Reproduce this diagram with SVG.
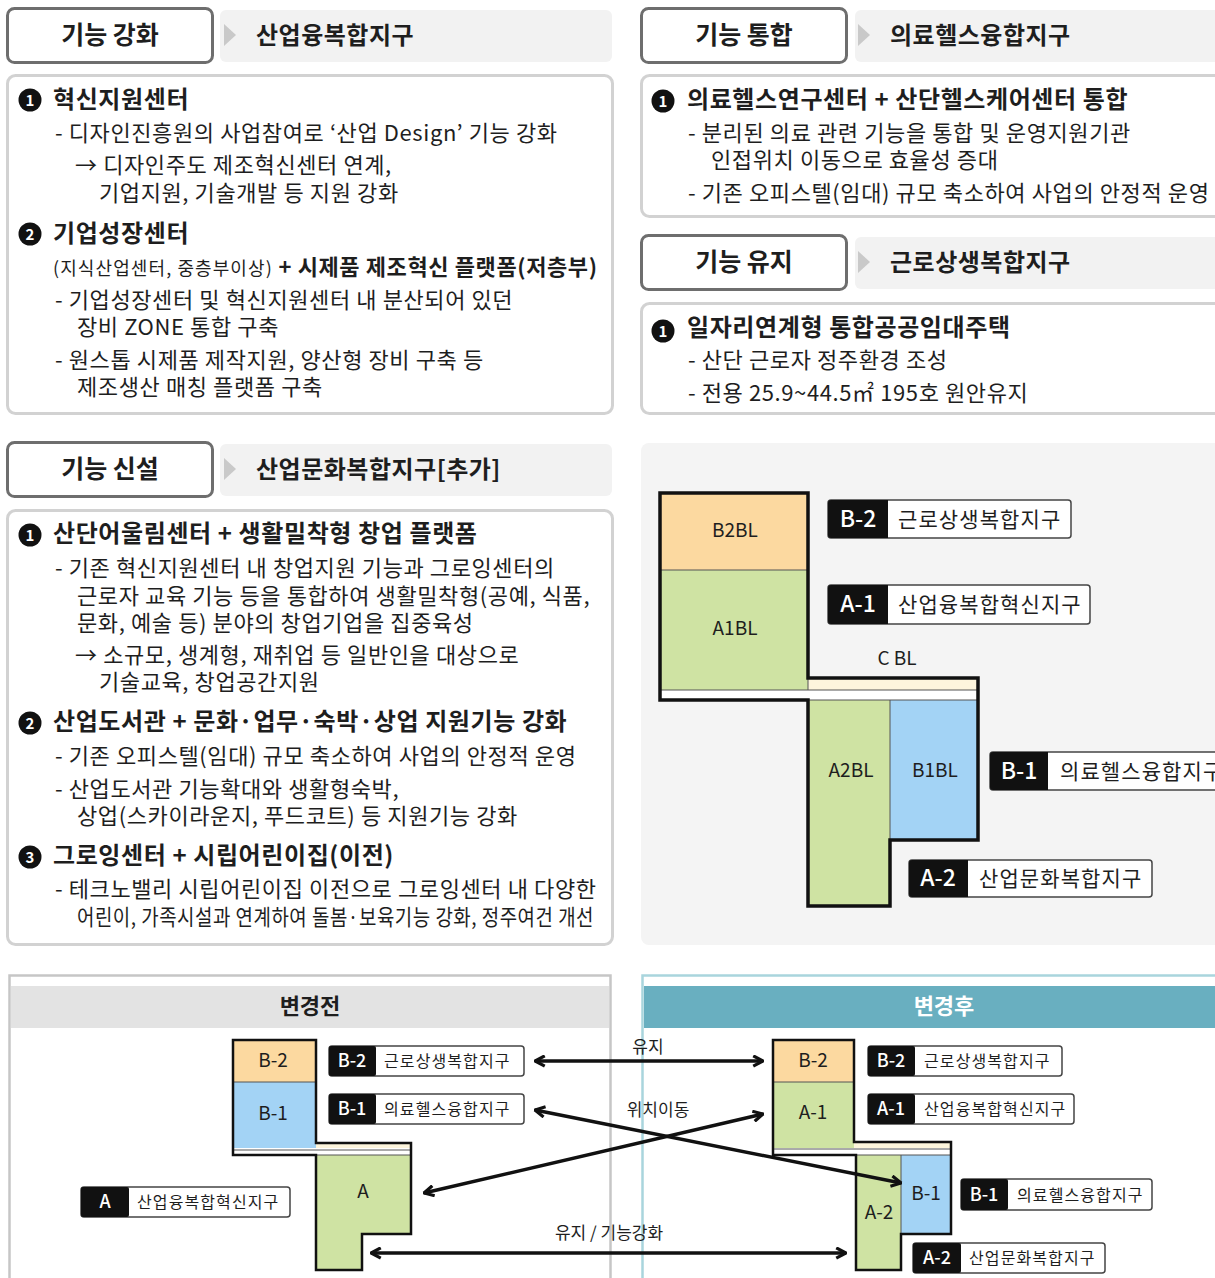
<svg xmlns="http://www.w3.org/2000/svg" width="1215" height="1278" viewBox="0 0 1215 1278">
<defs>
<style>
text{font-family:"Noto Sans CJK KR","Noto Sans",sans-serif;fill:#1e1e1e}
.tag{fill:#fff;stroke:#6e6e6e;stroke-width:3}
.tagt{font-size:25px;font-weight:700;text-anchor:middle}
.band{fill:#f2f2f2}
.tri{fill:#c9c9c9}
.bandt{font-size:24px;font-weight:700;letter-spacing:0.5px}
.box{fill:#fff;stroke:#d2d2d2;stroke-width:3}
.h{font-size:24px;font-weight:700;letter-spacing:0.6px}
.b{font-size:22px;letter-spacing:0.6px}
.s{font-size:18px;letter-spacing:1.1px}
.bul{fill:#111}
.bn{font-size:15px;font-weight:700;fill:#fff;text-anchor:middle}
.or{fill:#fcd9a0}
.gr{fill:#cfe3a3}
.bl{fill:#a3d3f5}
.cr{fill:#fdf5dc}
.wh{fill:#fff}
.ol{fill:none;stroke:#111;stroke-width:3.5;stroke-linejoin:miter}
.ol2{fill:none;stroke:#111;stroke-width:2.5;stroke-linejoin:miter}
.thin{stroke:#555;stroke-width:1}
.pl{font-size:19px;text-anchor:middle}
.lbo{fill:#fff;stroke:#444;stroke-width:1.5}
.lbk{fill:#111}
.lk{font-size:23px;font-weight:500;fill:#fff;text-anchor:middle}
.lw{font-size:21px;letter-spacing:1.1px}
.lk2{font-size:18px;font-weight:500;fill:#fff;text-anchor:middle}
.lw2{font-size:16px;letter-spacing:1.1px}
.at{font-size:17px;text-anchor:middle}
.arr{fill:none;stroke:#111;stroke-width:3.5}
</style>
<marker id="chev" viewBox="0 0 10 10" refX="9" refY="5" markerWidth="13" markerHeight="13" markerUnits="userSpaceOnUse" orient="auto-start-reverse">
<path d="M1.5,1 L9,5 L1.5,9" fill="none" stroke="#111" stroke-width="2.4"/>
</marker>
</defs>
<rect width="1215" height="1278" fill="#fff"/>

<!-- Section 1: 기능 강화 -->
<g id="sec-gangwha">
<rect class="band" x="220" y="10" width="392" height="52" rx="6"/>
<polygon class="tri" points="224,24 236,35 224,46"/>
<text class="bandt" x="256" y="44">산업융복합지구</text>
<rect class="tag" x="7.5" y="8.5" width="205" height="54" rx="7"/>
<text class="tagt" x="110" y="44">기능 강화</text>
</g>
<g id="box-gangwha">
<rect class="box" x="7.5" y="75.5" width="605" height="338" rx="8"/>
<circle class="bul" cx="30" cy="100" r="11.5"/><text class="bn" x="30" y="105.5">1</text>
<text class="h" x="53" y="108">혁신지원센터</text>
<text class="b" x="55" y="141">- 디자인진흥원의 사업참여로 ‘산업 Design’ 기능 강화</text>
<text class="b" x="75" y="173">→ 디자인주도 제조혁신센터 연계,</text>
<text class="b" x="99" y="201">기업지원, 기술개발 등 지원 강화</text>
<circle class="bul" cx="30" cy="234" r="11.5"/><text class="bn" x="30" y="239.5">2</text>
<text class="h" x="53" y="242">기업성장센터</text>
<text x="53" y="275"><tspan class="s">(지식산업센터, 중층부이상)</tspan><tspan class="b" font-weight="700"> + 시제품 제조혁신 플랫폼(저층부)</tspan></text>
<text class="b" x="55" y="308">- 기업성장센터 및 혁신지원센터 내 분산되어 있던</text>
<text class="b" x="77" y="335">장비 ZONE 통합 구축</text>
<text class="b" x="55" y="368">- 원스톱 시제품 제작지원, 양산형 장비 구축 등</text>
<text class="b" x="77" y="395">제조생산 매칭 플랫폼 구축</text>
</g>

<!-- Section 2: 기능 통합 -->
<g id="sec-tonghap">
<rect class="band" x="855" y="10" width="370" height="52" rx="6"/>
<polygon class="tri" points="858,24 870,35 858,46"/>
<text class="bandt" x="890" y="44">의료헬스융합지구</text>
<rect class="tag" x="641.5" y="8.5" width="205" height="54" rx="7"/>
<text class="tagt" x="744" y="44">기능 통합</text>
</g>
<g id="box-tonghap">
<rect class="box" x="641.5" y="75.5" width="590" height="141" rx="8"/>
<circle class="bul" cx="663" cy="101" r="11.5"/><text class="bn" x="663" y="106.5">1</text>
<text class="h" x="687" y="108">의료헬스연구센터 + 산단헬스케어센터 통합</text>
<text class="b" x="688" y="141">- 분리된 의료 관련 기능을 통합 및 운영지원기관</text>
<text class="b" x="711" y="168">인접위치 이동으로 효율성 증대</text>
<text class="b" x="688" y="201">- 기존 오피스텔(임대) 규모 축소하여 사업의 안정적 운영</text>
</g>

<!-- Section 3: 기능 유지 -->
<g id="sec-yuji">
<rect class="band" x="855" y="237" width="370" height="52" rx="6"/>
<polygon class="tri" points="858,251 870,262 858,273"/>
<text class="bandt" x="890" y="271">근로상생복합지구</text>
<rect class="tag" x="641.5" y="235.5" width="205" height="54" rx="7"/>
<text class="tagt" x="744" y="271">기능 유지</text>
</g>
<g id="box-yuji">
<rect class="box" x="641.5" y="303.5" width="590" height="110" rx="8"/>
<circle class="bul" cx="663" cy="331" r="11.5"/><text class="bn" x="663" y="336.5">1</text>
<text class="h" x="687" y="336">일자리연계형 통합공공임대주택</text>
<text class="b" x="688" y="368">- 산단 근로자 정주환경 조성</text>
<text class="b" x="688" y="401">- 전용 25.9~44.5㎡ 195호 원안유지</text>
</g>

<!-- Section 4: 기능 신설 -->
<g id="sec-sinseol">
<rect class="band" x="220" y="444" width="392" height="52" rx="6"/>
<polygon class="tri" points="224,458 236,469 224,480"/>
<text class="bandt" x="256" y="478">산업문화복합지구[추가]</text>
<rect class="tag" x="7.5" y="442.5" width="205" height="54" rx="7"/>
<text class="tagt" x="110" y="478">기능 신설</text>
</g>
<g id="box-sinseol">
<rect class="box" x="7.5" y="510.5" width="605" height="434" rx="8"/>
<circle class="bul" cx="30" cy="535" r="11.5"/><text class="bn" x="30" y="540.5">1</text>
<text class="h" x="53" y="542">산단어울림센터 + 생활밀착형 창업 플랫폼</text>
<text class="b" x="55" y="576">- 기존 혁신지원센터 내 창업지원 기능과 그로잉센터의</text>
<text class="b" x="77" y="604">근로자 교육 기능 등을 통합하여 생활밀착형(공예, 식품,</text>
<text class="b" x="77" y="631">문화, 예술 등) 분야의 창업기업을 집중육성</text>
<text class="b" x="75" y="663">→ 소규모, 생계형, 재취업 등 일반인을 대상으로</text>
<text class="b" x="99" y="690">기술교육, 창업공간지원</text>
<circle class="bul" cx="30" cy="723" r="11.5"/><text class="bn" x="30" y="728.5">2</text>
<text class="h" x="53" y="730">산업도서관 + 문화·업무·숙박·상업 지원기능 강화</text>
<text class="b" x="55" y="764">- 기존 오피스텔(임대) 규모 축소하여 사업의 안정적 운영</text>
<text class="b" x="55" y="797">- 산업도서관 기능확대와 생활형숙박,</text>
<text class="b" x="77" y="824">상업(스카이라운지, 푸드코트) 등 지원기능 강화</text>
<circle class="bul" cx="30" cy="857" r="11.5"/><text class="bn" x="30" y="862.5">3</text>
<text class="h" x="53" y="864">그로잉센터 + 시립어린이집(이전)</text>
<text class="b" x="55" y="897">- 테크노밸리 시립어린이집 이전으로 그로잉센터 내 다양한</text>
<text class="b" x="77" y="925" font-size="20" textLength="517" lengthAdjust="spacingAndGlyphs">어린이, 가족시설과 연계하여 돌봄·보육기능 강화, 정주여건 개선</text>
</g>

<!-- Plan (middle right) -->
<g id="plan">
<rect x="641" y="443" width="584" height="502" rx="8" fill="#f4f4f4"/>
<rect class="or" x="660" y="493" width="148" height="77"/>
<rect class="gr" x="660" y="570" width="148" height="120"/>
<rect class="cr" x="808" y="678" width="170" height="12"/>
<rect class="wh" x="660" y="690" width="318" height="10"/>
<rect class="gr" x="808" y="700" width="82" height="206"/>
<rect class="bl" x="890" y="700" width="88" height="140"/>
<line class="thin" x1="660" y1="570" x2="808" y2="570"/>
<line class="thin" x1="808" y1="678" x2="808" y2="690"/>
<line class="thin" x1="660" y1="690" x2="978" y2="690"/>
<line class="thin" x1="808" y1="700" x2="978" y2="700"/>
<line class="thin" x1="890" y1="700" x2="890" y2="840"/>
<path class="ol" d="M660,493 H808 V678 H978 V840 H890 V906 H808 V700 H660 Z"/>
<text class="pl" x="735" y="537">B2BL</text>
<text class="pl" x="735" y="635">A1BL</text>
<text class="pl" x="897" y="665">C BL</text>
<text class="pl" x="851" y="777">A2BL</text>
<text class="pl" x="935" y="777">B1BL</text>
</g>
<g id="plan-label-b2">
<rect class="lbo" x="828" y="500" width="243" height="38" rx="3"/>
<path class="lbk" d="M831,500 H888 V538 H831 Q828,538 828,535 V503 Q828,500 831,500 Z"/>
<text class="lk" x="858" y="527">B-2</text>
<text class="lw" x="898" y="527">근로상생복합지구</text>
</g>
<g id="plan-label-a1">
<rect class="lbo" x="828" y="585" width="262" height="39" rx="3"/>
<path class="lbk" d="M831,585 H888 V624 H831 Q828,624 828,621 V588 Q828,585 831,585 Z"/>
<text class="lk" x="858" y="612">A-1</text>
<text class="lw" x="898" y="612">산업융복합혁신지구</text>
</g>
<g id="plan-label-b1">
<rect class="lbo" x="990" y="752" width="240" height="38" rx="3"/>
<path class="lbk" d="M993,752 H1048 V790 H993 Q990,790 990,787 V755 Q990,752 993,752 Z"/>
<text class="lk" x="1019" y="779">B-1</text>
<text class="lw" x="1060" y="779">의료헬스융합지구</text>
</g>
<g id="plan-label-a2">
<rect class="lbo" x="909" y="860" width="243" height="37" rx="3"/>
<path class="lbk" d="M912,860 H968 V897 H912 Q909,897 909,894 V863 Q909,860 912,860 Z"/>
<text class="lk" x="938" y="886">A-2</text>
<text class="lw" x="979" y="886">산업문화복합지구</text>
</g>

<!-- Before panel -->
<g id="before">
<rect x="9.5" y="975.5" width="601" height="320" fill="#fff" stroke="#c6c6c6" stroke-width="2.5"/>
<rect x="11" y="986" width="598" height="42" fill="#e3e3e3"/>
<text x="310" y="1014" font-size="22" font-weight="700" text-anchor="middle">변경전</text>
<rect class="or" x="233" y="1040" width="83" height="42"/>
<rect class="bl" x="233" y="1082" width="83" height="66"/>
<rect class="cr" x="316" y="1143" width="95" height="7"/>
<rect class="wh" x="233" y="1148" width="178" height="7"/>
<path class="gr" d="M316,1155 H411 V1234 H362 V1270 H316 Z"/>
<line class="thin" x1="233" y1="1082" x2="316" y2="1082"/>
<line class="thin" x1="233" y1="1150" x2="411" y2="1150"/>
<line class="thin" x1="316" y1="1155" x2="411" y2="1155"/>
<path class="ol2" d="M233,1040 H316 V1143 H411 V1234 H362 V1270 H316 V1155 H233 Z"/>
<text class="pl" x="273" y="1067">B-2</text>
<text class="pl" x="273" y="1120">B-1</text>
<text class="pl" x="363" y="1198">A</text>
</g>
<g id="before-label-b2">
<rect class="lbo" x="329" y="1046" width="195" height="30" rx="3"/>
<rect class="lbk" x="329" y="1046" width="47" height="30" rx="2"/>
<text class="lk2" x="352" y="1067">B-2</text>
<text class="lw2" x="384" y="1067">근로상생복합지구</text>
</g>
<g id="before-label-b1">
<rect class="lbo" x="329" y="1094" width="195" height="30" rx="3"/>
<rect class="lbk" x="329" y="1094" width="47" height="30" rx="2"/>
<text class="lk2" x="352" y="1115">B-1</text>
<text class="lw2" x="384" y="1115">의료헬스융합지구</text>
</g>
<g id="before-label-a">
<rect class="lbo" x="81" y="1187" width="209" height="30" rx="3"/>
<rect class="lbk" x="81" y="1187" width="48" height="30" rx="2"/>
<text class="lk2" x="105" y="1208">A</text>
<text class="lw2" x="137" y="1208">산업융복합혁신지구</text>
</g>

<!-- After panel -->
<g id="after">
<rect x="642.5" y="975.5" width="590" height="320" fill="#fff" stroke="#a9d5dd" stroke-width="2.5"/>
<rect x="644" y="986" width="581" height="42" fill="#69afc0"/>
<text x="944" y="1014" font-size="22" font-weight="700" text-anchor="middle" style="fill:#fff">변경후</text>
<rect class="or" x="773" y="1040" width="81" height="42"/>
<rect class="gr" x="773" y="1082" width="81" height="66"/>
<rect class="cr" x="854" y="1142" width="97" height="7"/>
<rect class="wh" x="773" y="1148" width="178" height="7"/>
<rect class="gr" x="856" y="1155" width="45" height="115"/>
<rect class="bl" x="901" y="1155" width="50" height="79"/>
<line class="thin" x1="773" y1="1082" x2="854" y2="1082"/>
<line class="thin" x1="773" y1="1149" x2="951" y2="1149"/>
<line class="thin" x1="856" y1="1155" x2="951" y2="1155"/>
<line class="thin" x1="901" y1="1155" x2="901" y2="1234"/>
<path class="ol2" d="M773,1040 H854 V1142 H951 V1234 H901 V1270 H856 V1155 H773 Z"/>
<text class="pl" x="813" y="1067">B-2</text>
<text class="pl" x="813" y="1119">A-1</text>
<text class="pl" x="926" y="1200">B-1</text>
<text class="pl" x="879" y="1219">A-2</text>
</g>
<g id="after-label-b2">
<rect class="lbo" x="868" y="1046" width="194" height="30" rx="3"/>
<rect class="lbk" x="868" y="1046" width="47" height="30" rx="2"/>
<text class="lk2" x="891" y="1067">B-2</text>
<text class="lw2" x="924" y="1067">근로상생복합지구</text>
</g>
<g id="after-label-a1">
<rect class="lbo" x="868" y="1094" width="206" height="30" rx="3"/>
<rect class="lbk" x="868" y="1094" width="47" height="30" rx="2"/>
<text class="lk2" x="891" y="1115">A-1</text>
<text class="lw2" x="924" y="1115">산업융복합혁신지구</text>
</g>
<g id="after-label-b1">
<rect class="lbo" x="961" y="1179" width="191" height="31" rx="3"/>
<rect class="lbk" x="961" y="1179" width="47" height="31" rx="2"/>
<text class="lk2" x="984" y="1201">B-1</text>
<text class="lw2" x="1017" y="1201">의료헬스융합지구</text>
</g>
<g id="after-label-a2">
<rect class="lbo" x="913" y="1243" width="192" height="30" rx="3"/>
<rect class="lbk" x="913" y="1243" width="48" height="30" rx="2"/>
<text class="lk2" x="937" y="1264">A-2</text>
<text class="lw2" x="969" y="1264">산업문화복합지구</text>
</g>

<!-- Connectors -->
<g id="connectors">
<line class="arr" x1="535" y1="1061" x2="763" y2="1061" marker-start="url(#chev)" marker-end="url(#chev)"/>
<line class="arr" x1="535" y1="1110" x2="901" y2="1183" marker-start="url(#chev)" marker-end="url(#chev)"/>
<line class="arr" x1="424" y1="1193" x2="763" y2="1114" marker-start="url(#chev)" marker-end="url(#chev)"/>
<line class="arr" x1="371" y1="1253" x2="846" y2="1253" marker-start="url(#chev)" marker-end="url(#chev)"/>
<text class="at" x="648" y="1053">유지</text>
<text class="at" x="658" y="1116">위치이동</text>
<text class="at" x="609" y="1239">유지 / 기능강화</text>
</g>
</svg>
